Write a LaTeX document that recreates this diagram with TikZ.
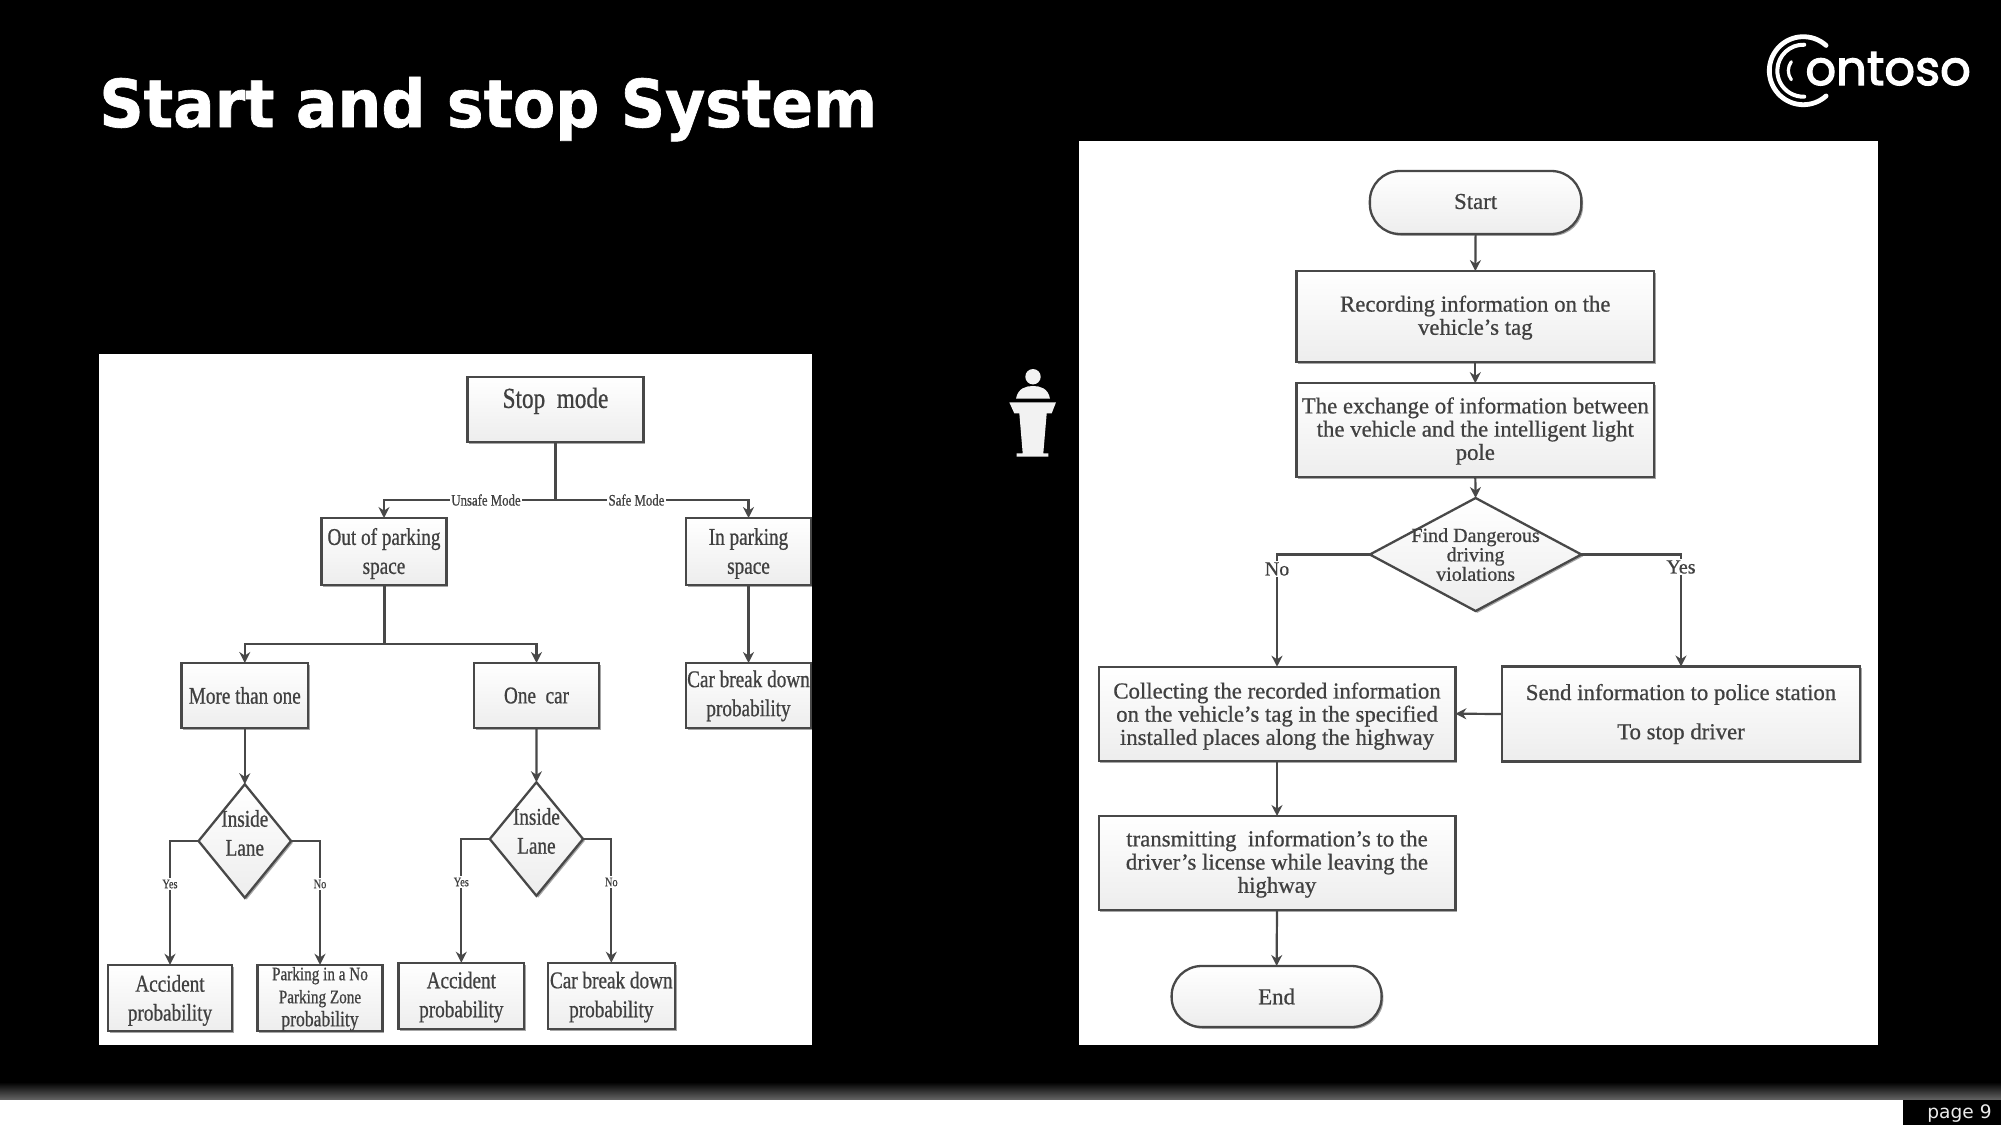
\documentclass[tikz,border=0pt]{standalone}
\usepackage{fontspec}
\usetikzlibrary{arrows.meta,shapes.geometric,shadows}
\setmainfont[FakeBold=0.7]{Liberation Serif}
\newfontfamily\titlefont{DejaVu Sans}
\newfontfamily\headfont[FakeStretch=0.933,FakeBold=1]{DejaVu Sans}
\newfontfamily\logofont[FakeBold=2.5]{Poppins}
\newfontfamily\narrowserif[FakeStretch=0.8,FakeBold=0.7]{Liberation Serif}
\newcommand{\fs}[1]{\fontsize{#1}{#1}\selectfont}
\definecolor{inkgray}{HTML}{404040}
\definecolor{edgegray}{HTML}{484848}
\tikzset{
  x=0.5pt,y=-0.5pt,
  size/.style 2 args={minimum width=#1*0.5pt,minimum height=#2*0.5pt},
  flowshape/.style={draw=edgegray,line width=1.15pt,inner sep=0pt,outer sep=0pt,
    top color=white,bottom color=black!7,
    drop shadow={shadow xshift=0.9pt,shadow yshift=-0.9pt,fill=black,opacity=0.35}},
  leftbox/.style={flowshape},
  rightbox/.style={flowshape},
  decision/.style={flowshape,diamond,aspect=1},
  captext/.style={text=inkgray,align=center,inner sep=0pt},
  leftlines/.style={captext,font=\narrowserif\fs{12},execute at begin node={\baselineskip=14.5pt}},
  rightlines/.style={captext,font=\fs{11.4},execute at begin node={\baselineskip=11.6pt}},
  lcap/.style 2 args={label={[leftlines,yshift=#1]center:#2}},
  rcap/.style 2 args={label={[rightlines,yshift=#1]center:#2}},
  flow/.style={draw=edgegray,line width=1.1pt,-{Stealth[length=5.5pt,width=5.5pt]}},
  plain/.style={draw=edgegray,line width=1.5pt},
  tag/.style={fill=white,text=inkgray,inner sep=0.6pt,font=\narrowserif\fs{8}},
  smalltag/.style={tag,font=\narrowserif\fs{6.5}},
  logoarc/.style={draw=white,line cap=round,line width=2.4pt},
}
\begin{document}
\begin{tikzpicture}
\useasboundingbox (0,0) rectangle (2001,1125);
\fill[black] (0,0) rectangle (2001,1125);

% slide frame: footer band and page number
\shade[top color=black,bottom color=black!60] (0,1082) rectangle (2001,1100);
\fill[white] (0,1100) rectangle (1903,1125);
\fill[black] (1903,1100) rectangle (2001,1125);
\node[anchor=base east,text=white!92!black,inner sep=0pt,font=\titlefont\fs{9.3}] (pageno) at (1992,1118) {page 9};
\node[anchor=base west,text=white,inner sep=0pt,font=\headfont\bfseries\fs{33}] (title) at (99,127) {Start and stop System};

% logo
\draw[logoarc] (1803.3,70.7) ++(48:17pt) arc[start angle=48,end angle=312,radius=17pt];
\draw[logoarc,line width=2pt] (1803.3,70.7) ++(88:13pt) arc[start angle=88,end angle=272,radius=13pt];
\draw[logoarc,line width=1.6pt] (1803.3,70.7) ++(143:7.5pt) arc[start angle=143,end angle=217,radius=7.5pt];
\node[anchor=base west,text=white,inner sep=0pt,font=\logofont\fs{24}] (logotext) at (1805,85) {ontoso};

% lectern with speaker
\fill[white!95!black] (1033,376.7) circle[radius=3.85pt];
\fill[white!95!black] (1016,398.7) .. controls (1018,388) and (1026,386) .. (1033,386) .. controls (1040,386) and (1048,388) .. (1050,398.7) -- cycle;
\fill[white!95!black] (1009.3,402.3) -- (1056,402.3) -- (1051.7,413.3) -- (1046.7,413.3) -- (1043.3,453.3) -- (1048.3,453.3) -- (1048.3,456.7) -- (1016.7,456.7) -- (1016.7,453.3) -- (1022.7,453.3) -- (1019.3,413.3) -- (1014.3,413.3) -- cycle;

% left panel
\fill[white] (98.5,353.5) rectangle (812,1045);
\node[leftbox,size={176}{65},label={[captext,font=\narrowserif\fs{14.5},yshift=4.3pt]center:Stop\ \ mode}] (stop) at (555.5,409.5) {};
\node[leftbox,size={125}{67},lcap={-1pt}{Out of parking\\space}] (outp) at (384,551.5) {};
\node[leftbox,size={125.5}{67},lcap={-1pt}{In parking\\space}] (inp) at (748.5,551.5) {};
\node[leftbox,size={126.5}{65},lcap={0pt}{More than one}] (more) at (244.8,695.5) {};
\node[leftbox,size={125}{65},lcap={0pt}{One\ \ car}] (one) at (536.5,695.5) {};
\node[leftbox,size={125.5}{65},lcap={-0.2pt}{Car break down\\probability}] (brk) at (748.5,695.5) {};
\node[decision,size={92.5}{113.5},lcap={4pt}{Inside\\Lane}] (dl) at (244.8,841) {};
\node[decision,size={93.3}{113.5},lcap={4pt}{Inside\\Lane}] (dr) at (536.4,839) {};
\node[leftbox,size={124.5}{66.5},lcap={-1.2pt}{Accident\\probability}] (acc1) at (170,998) {};
\node[leftbox,size={125}{66.5},label={[captext,font=\narrowserif\fs{9.5},execute at begin node={\baselineskip=11.5pt},yshift=-0.5pt]center:Parking in a No\\Parking Zone\\{\fs{11}probability}}] (park) at (320,998) {};
\node[leftbox,size={125.4}{66.5},lcap={-0.5pt}{Accident\\probability}] (acc2) at (461.3,996) {};
\node[leftbox,size={127}{66.5},lcap={-0.5pt}{Car break down\\probability}] (brk2) at (611.3,996) {};

\coordinate (split) at (555.5,500);
\coordinate (fork) at (384,644);
\draw[plain] (stop.south) -- (split);
\draw[flow] (split) -| (outp.north);
\draw[flow] (split) -| (inp.north);
\draw[flow] (inp.south) -- (brk.north);
\draw[plain] (outp.south) -- (fork);
\draw[flow] (fork) -| (more.north);
\draw[flow] (fork) -| (one.north);
\draw[flow] (more.south) -- (dl.north);
\draw[flow] (one.south) -- (dr.north);
\draw[flow] (dl.west) -| (acc1.north);
\draw[flow] (dl.east) -| (park.north);
\draw[flow] (dr.west) -| (acc2.north);
\draw[flow] (dr.east) -| (brk2.north);
\node[tag] (unsafe) at (486,500) {Unsafe Mode};
\node[tag] (safe) at (636.5,500) {Safe Mode};
\node[smalltag] (y1) at (170,884) {Yes};
\node[smalltag] (n1) at (320,884) {No};
\node[smalltag] (y2) at (461.3,882) {Yes};
\node[smalltag] (n2) at (611.3,882) {No};

% right panel
\fill[white] (1079,140.5) rectangle (1878,1045);
\node[flowshape,rounded corners=15pt,size={211.5}{63},rcap={0.5pt}{Start}] (start) at (1475.6,202.5) {};
\node[rightbox,size={357.5}{91},rcap={-0.5pt}{Recording information on the\\vehicle’s tag}] (rec) at (1475.3,316.6) {};
\node[rightbox,size={357.5}{93.7},rcap={-0.5pt}{The exchange of information between\\the vehicle and the intelligent light\\pole}] (exch) at (1475.3,430) {};
\node[decision,size={211.5}{113},label={[captext,font=\fs{10},execute at begin node={\baselineskip=9.7pt}]center:Find Dangerous\\driving\\violations}] (find) at (1475.6,554.5) {};
\node[rightbox,size={356.7}{94},rcap={-1.2pt}{Collecting the recorded information\\on the vehicle’s tag in the specified\\installed places along the highway}] (coll) at (1277,713.7) {};
\node[rightbox,size={357.7}{95},label={[rightlines]center:Send information to police station\\[8pt]To stop driver}] (send) at (1681,714) {};
\node[rightbox,size={356.7}{94},rcap={-0.5pt}{transmitting\ \ information's to the\\driver’s license while leaving the\\highway}] (trans) at (1277,863) {};
\node[flowshape,rounded corners=15pt,size={210}{61},rcap={0pt}{End}] (end) at (1276.6,996.5) {};

\draw[flow] (start.south) -- (rec.north);
\draw[flow] (rec.south) -- (exch.north);
\draw[flow] (exch.south) -- (find.north);
\draw[flow] (find.west) -| (coll.north);
\draw[flow] (find.east) -| (send.north);
\draw[flow] (send.west) -- (coll.east);
\draw[flow] (coll.south) -- (trans.north);
\draw[flow] (trans.south) -- (end.north);
\node[tag,font=\fs{10}] (no) at (1277,569) {No};
\node[tag,font=\fs{10}] (yes) at (1681,567) {Yes};
\end{tikzpicture}
\end{document}
